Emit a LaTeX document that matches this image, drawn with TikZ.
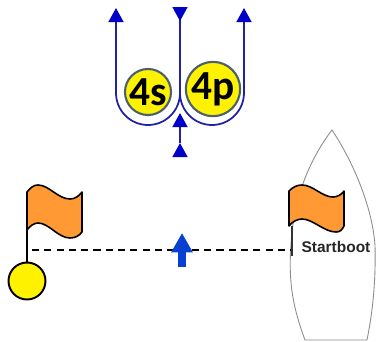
\documentclass[tikz,border=0pt]{standalone}
\usepackage{fontspec}
\setmainfont{Liberation Sans}
\newfontfamily\badgefont{Carlito}
\usetikzlibrary{arrows.meta,positioning}
\definecolor{routeBlue}{HTML}{2020A8}
\definecolor{headBlue}{HTML}{0000C8}
\definecolor{windBlue}{HTML}{0A40D0}
\definecolor{flagOrange}{HTML}{FF9933}
\definecolor{badgeEdge}{HTML}{4A6070}
\tikzstyle{route}=[draw=routeBlue,line width=1pt]
\tikzstyle{head}=[-{Triangle[width=8.5pt,length=8pt,color=headBlue]}]
\tikzstyle{headback}=[-{Triangle[width=8.5pt,length=8pt,color=headBlue,reversed]}]
\tikzstyle{badge}=[circle,fill=yellow,draw=badgeEdge,line width=1.2pt,minimum size=0.86cm,inner sep=0pt,font=\badgefont\fontsize{23.5}{23.5}\selectfont\bfseries]
\tikzstyle{flag}=[fill=flagOrange,draw=black,line width=0.9pt,line join=round]
\tikzstyle{pole}=[draw=black,line width=1.1pt]
\begin{document}
\begin{tikzpicture}[x=0.02cm,y=0.02cm]
  \useasboundingbox (0,0) rectangle (376,-342);

  % Boat
  \draw[draw=black!45,line width=0.5pt] (305,-340)
  .. controls (294,-310) and (288,-285) .. (291,-245)
  .. controls (293,-200) and (309,-160) .. (332,-130)
  .. controls (352,-160) and (372,-205) .. (375,-245)
  .. controls (376,-285) and (372,-315) .. (367,-340) -- cycle;

  % Manoeuvre lines
  \coordinate (leftTop) at (116,-8);
  \coordinate (leftBend) at (116,-93);
  \coordinate (middleTop) at (180,-7);
  \coordinate (middleBend) at (180,-93);
  \coordinate (rightTop) at (244,-8);
  \coordinate (rightBend) at (244,-93);
  \coordinate (lowBase) at (180,-156);
  \coordinate (lowTip) at (180,-143);
  \coordinate (upTip) at (180,-113);

  \draw[route] (middleBend) arc[start angle=0,end angle=-180,radius=0.64cm];
  \draw[route] (middleBend) arc[start angle=180,end angle=360,radius=0.64cm];
  \draw[route,head] (leftBend) -- (leftTop);
  \draw[route,head] (rightBend) -- (rightTop);
  \draw[route,headback] (middleBend) -- (middleTop);
  \draw[route,head] (lowBase) -- (lowTip);
  \draw[route,head] (lowTip) -- (upTip);

  \node[badge] (badgeS) at (148,-92) {4s};
  \node[badge] (badgeP) at (213,-89) {4p};

  % Start line
  \coordinate (lineStart) at (32,-250);
  \coordinate (lineEnd) at (292,-250);
  \draw[draw=black,line width=1.1pt,dash pattern=on 4pt off 3pt] (lineStart) -- (lineEnd);

  \coordinate (arrowBase) at (182,-267);
  \coordinate (arrowTip) at (182,-233);
  \draw[draw=windBlue,line width=4.6pt,-{Triangle[width=11.5pt,length=11pt,color=windBlue]}] (arrowBase) -- (arrowTip);

  % Left flag and buoy
  \node[circle,fill=yellow,draw=black,line width=1.1pt,minimum size=0.74cm,inner sep=0pt] (buoy) at (27,-281) {};
  \coordinate (leftFlagTop) at (27,-192);
  \draw[pole] (leftFlagTop) -- (buoy.north);
  \draw[flag] (27,-192) .. controls (31,-187) and (34,-185) .. (38,-185)
  .. controls (49,-185) and (58,-199) .. (70,-199)
  .. controls (75,-199) and (79,-196) .. (82,-192)
  -- (82,-232)
  .. controls (79,-236) and (75,-238) .. (70,-238)
  .. controls (58,-238) and (49,-223) .. (38,-223)
  .. controls (34,-223) and (30,-226) .. (27,-230) -- cycle;

  % Right flag and label
  \coordinate (rightFlagBase) at (292,-226);
  \coordinate (rightPoleEnd) at (292,-256);
  \draw[pole,draw=black!80] (rightFlagBase) -- (rightPoleEnd);
  \draw[flag] (289,-191) .. controls (293,-187) and (297,-185) .. (302,-185)
  .. controls (313,-185) and (322,-197) .. (333,-197)
  .. controls (338,-197) and (342,-194) .. (344,-191)
  -- (344,-226)
  .. controls (342,-230) and (340,-232) .. (336,-232)
  .. controls (324,-232) and (313,-219) .. (302,-219)
  .. controls (297,-219) and (292,-222) .. (289,-226) -- cycle;

  \node[inner sep=0pt,font=\fontsize{8.8}{10}\selectfont\bfseries,text=black!85] (boatLabel) at (336,-247) {Startboot};
\end{tikzpicture}
\end{document}
